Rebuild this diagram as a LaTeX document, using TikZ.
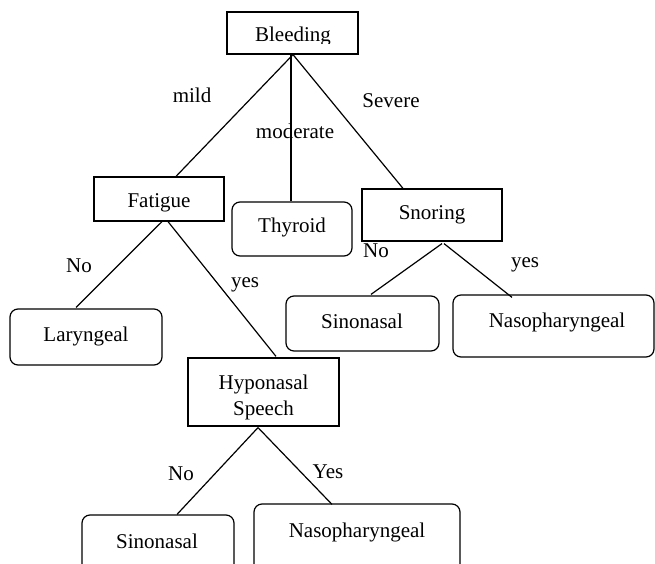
\documentclass[tikz,border=0pt]{standalone}
\usepackage{fontspec}
\setmainfont{Liberation Serif}
\begin{document}
\begin{tikzpicture}[x=1pt,y=-1pt,
  every node/.style={font=\fontsize{21}{25}\selectfont},
  sq/.style={draw, line width=1.2pt, inner sep=0pt, rectangle},
  rbox/.style={draw, line width=1.2pt, inner sep=0pt, rectangle, rounded corners=8pt},
  txt/.style={inner sep=0pt, anchor=base},
  edgetxt/.style={inner sep=0pt, anchor=base},
  conn/.style={line width=1.2pt}]
\useasboundingbox (0,0) rectangle (655,564);
\clip (0,0) rectangle (655,564);
% boxes
\node[sq, minimum width=131pt, minimum height=42pt] (bleed) at (292.5,33) {};
\node[sq, minimum width=130pt, minimum height=44pt] (fatigue) at (159,199) {};
\node[rbox, minimum width=120pt, minimum height=54pt] (thyroid) at (292,229) {};
\node[sq, minimum width=140pt, minimum height=52pt] (snoring) at (432,215) {};
\node[rbox, minimum width=152pt, minimum height=56pt] (laryngeal) at (86,337) {};
\node[rbox, minimum width=153pt, minimum height=55pt] (sinoA) at (362.5,323.5) {};
\node[rbox, minimum width=201pt, minimum height=62pt] (nasoA) at (553.5,326) {};
\node[sq, minimum width=151pt, minimum height=68pt] (hypo) at (263.5,392) {};
\node[rbox, minimum width=152pt, minimum height=65pt] (sinoB) at (158,547.5) {};
\node[rbox, minimum width=206pt, minimum height=76pt] (nasoB) at (357,542) {};
% texts
\begin{scope}
\clip (228,13) rectangle (357,43.5);
\node[txt] (bleedT) at (293,42) {Bleeding};
\end{scope}
\node[txt] (fatigueT) at (159,207) {Fatigue};
\node[txt] (thyroidT) at (292,232) {Thyroid};
\node[txt] (snoringT) at (432,219) {Snoring};
\node[txt] (laryngealT) at (86,341) {Laryngeal};
\node[txt] (sinoAT) at (362,328) {Sinonasal};
\node[txt] (nasoAT) at (557,327) {Nasopharyngeal};
\node[txt] (hypoT1) at (263.5,389) {Hyponasal};
\begin{scope}
\clip (189,395) rectangle (338,422);
\node[txt] (hypoT2) at (263.5,415) {Speech};
\end{scope}
\node[txt] (sinoBT) at (157,548) {Sinonasal};
\node[txt] (nasoBT) at (357,537) {Nasopharyngeal};
% connectors
\draw[conn] ([xshift=0.5pt]bleed.south) -- ([xshift=17pt]fatigue.north);
\draw[conn] ([xshift=-1.5pt]bleed.south) -- ([xshift=-1pt]thyroid.north);
\draw[conn] ([xshift=0.5pt]bleed.south) -- ([xshift=-29pt]snoring.north);
\draw[conn] ([xshift=3pt]fatigue.south) -- ([xshift=-10pt,yshift=1pt]laryngeal.north);
\draw[conn] ([xshift=9pt]fatigue.south) -- ([xshift=12.5pt,yshift=1pt]hypo.north);
\draw[conn] ([xshift=10pt,yshift=-2pt]snoring.south) -- ([xshift=8.5pt,yshift=1pt]sinoA.north);
\draw[conn] ([xshift=12pt,yshift=-2pt]snoring.south) -- ([xshift=-41.5pt,yshift=-3pt]nasoA.north);
\draw[conn] ([xshift=-5.5pt,yshift=-1pt]hypo.south) -- ([xshift=19pt]sinoB.north);
\draw[conn] ([xshift=-5.5pt,yshift=-1pt]hypo.south) -- ([xshift=-25pt,yshift=-1pt]nasoB.north);
% edge labels
\node[edgetxt] (lmild) at (192,103) {mild};
\node[edgetxt] (lmod) at (295,139) {moderate};
\node[edgetxt] (lsev) at (391,108) {Severe};
\node[edgetxt] (lno1) at (79,272) {No};
\node[edgetxt] (lyes1) at (245,287) {yes};
\node[edgetxt] (lno2) at (376,257) {No};
\node[edgetxt] (lyes2) at (525,267) {yes};
\node[edgetxt] (lno3) at (181,480) {No};
\node[edgetxt] (lyes3) at (328,478) {Yes};
\end{tikzpicture}
\end{document}
